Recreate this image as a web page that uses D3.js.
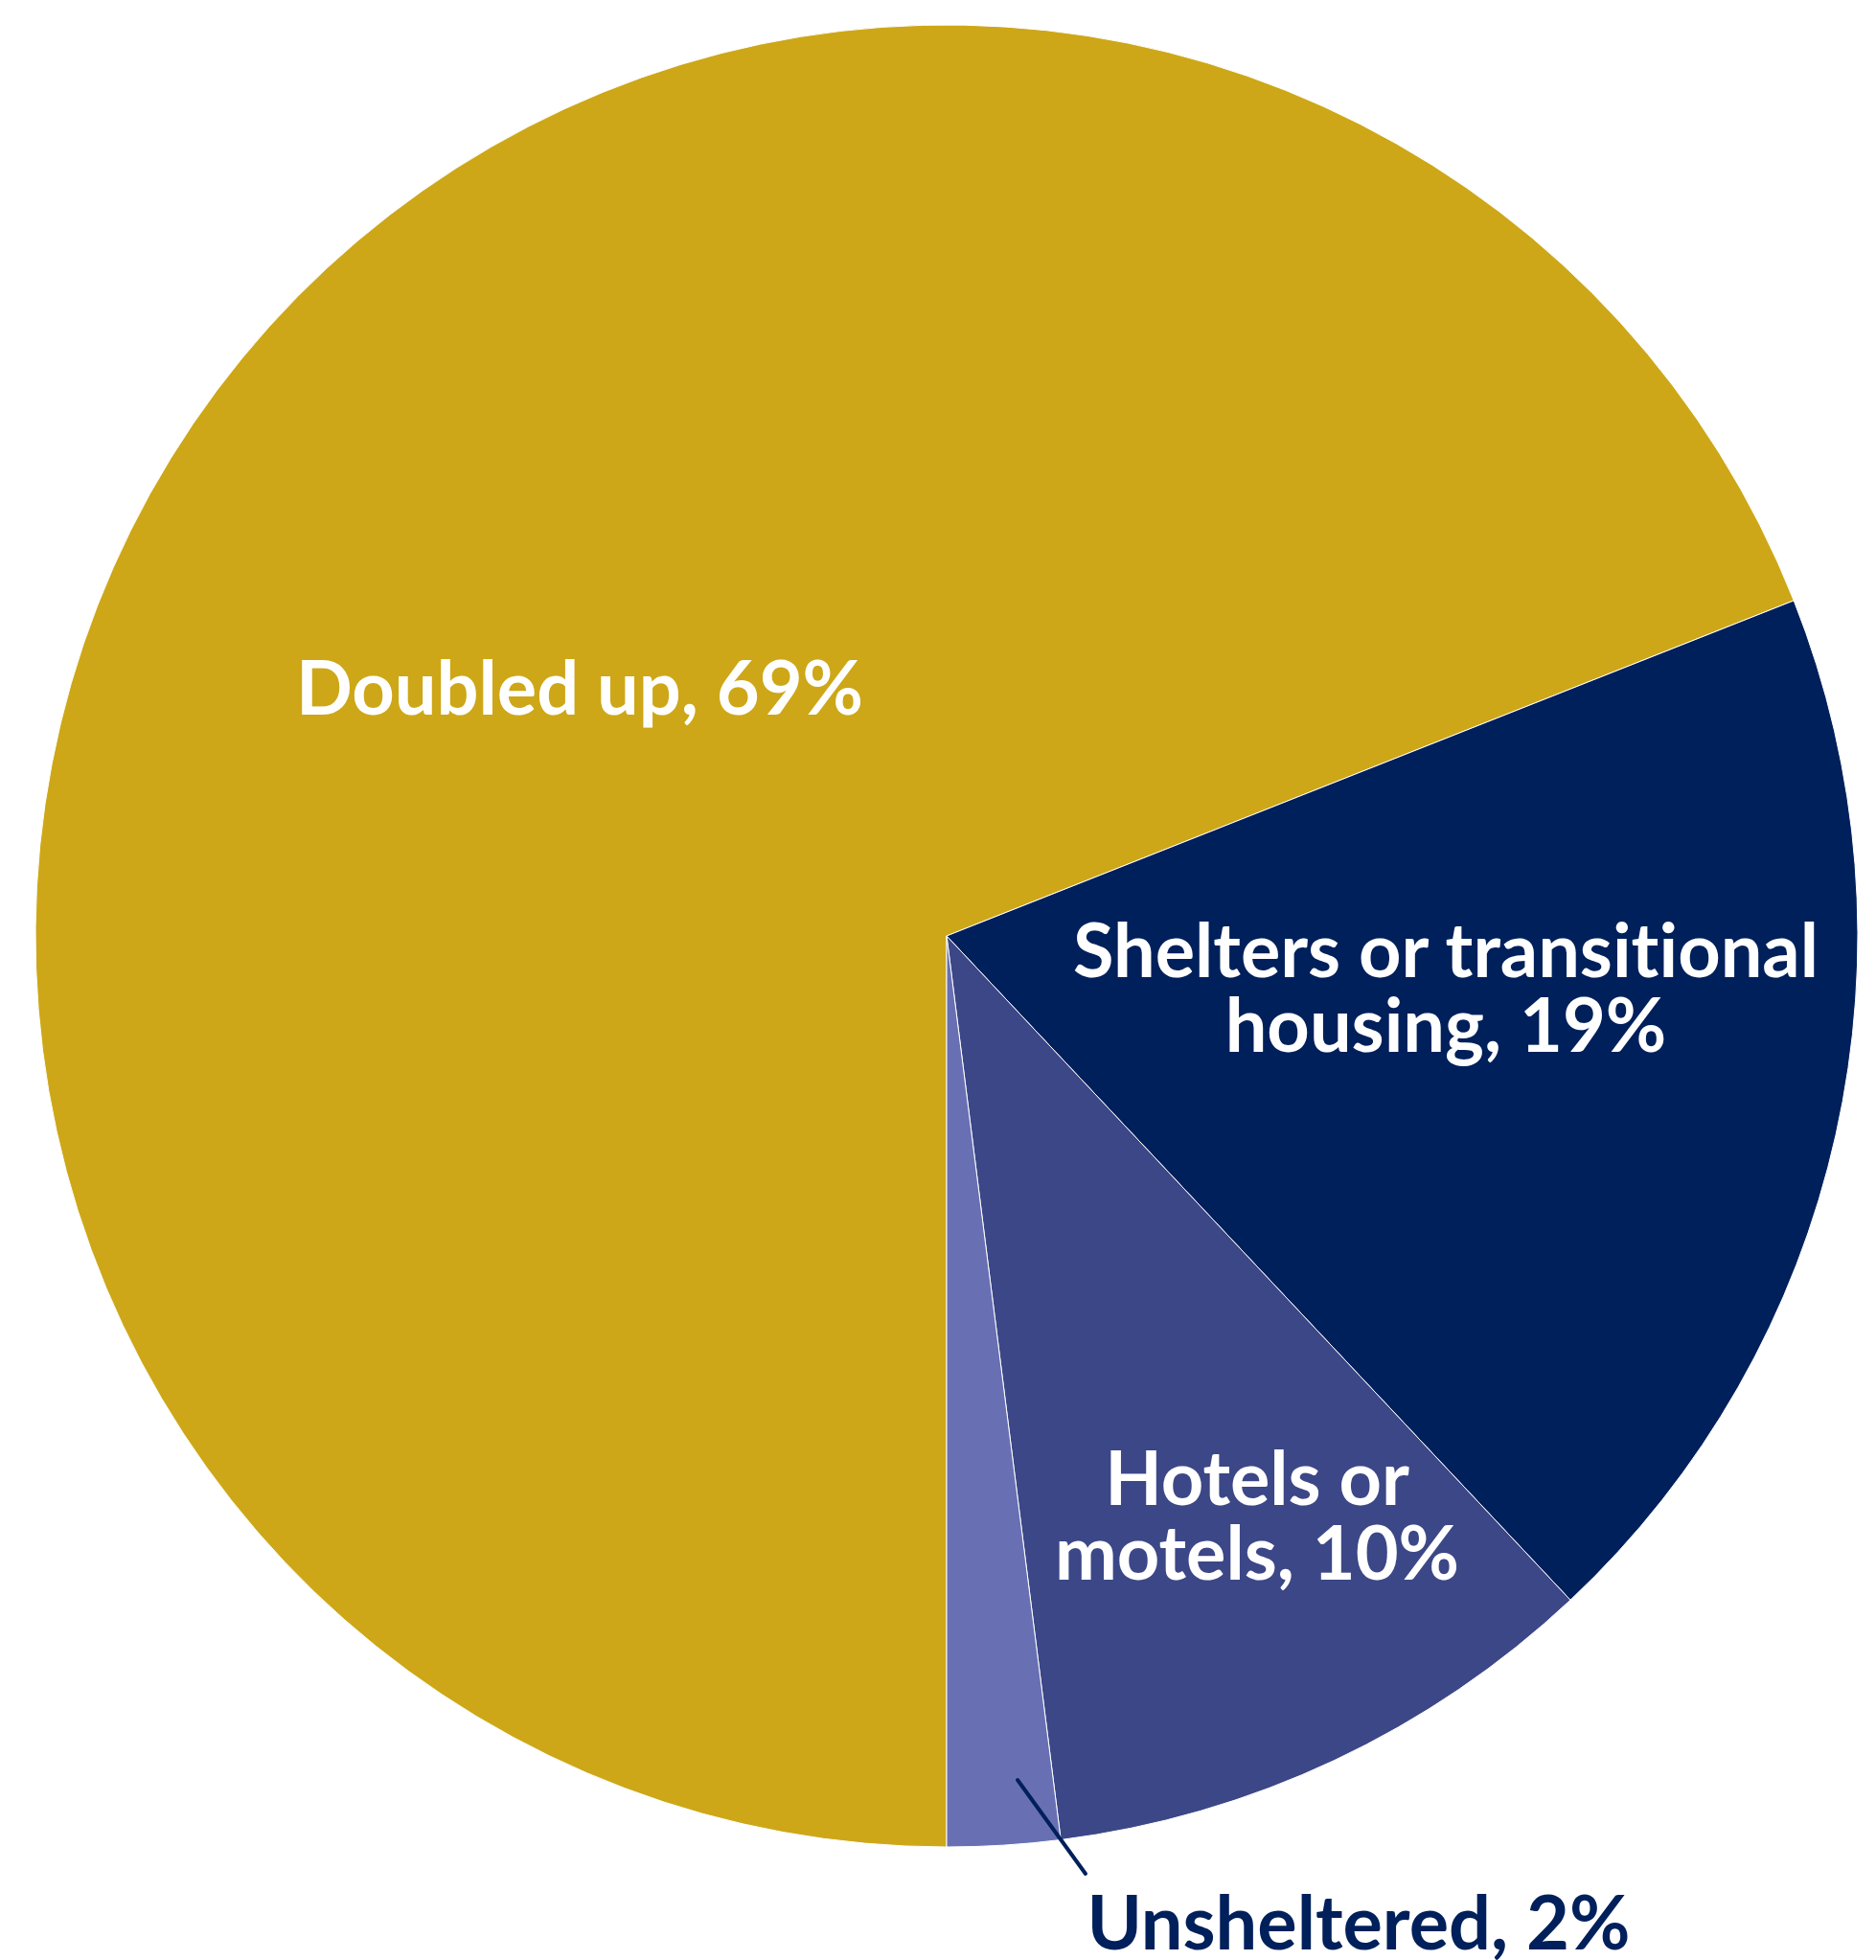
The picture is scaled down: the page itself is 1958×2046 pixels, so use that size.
<!DOCTYPE html>
<html>
<head>
<meta charset="utf-8">
<script src="https://cdn.jsdelivr.net/npm/d3@7"></script>
<style>
  body { margin: 0; background: #fff; }
  svg text { font-family: Lato, sans-serif; font-weight: 700; font-variant-ligatures: none; }
</style>
</head>
<body>
<svg width="1958" height="2046"></svg>
<script>
// Data
const categories = ["Doubled up", "Shelters or transitional housing", "Hotels or motels", "Unsheltered"];
const shares = [69, 19, 10, 2];
const colors = ["#CDA717", "#00205B", "#3C4787", "#6870B3"];
// label lines, as shown
const labelLines = [
    ["Doubled up, 69%"],
    ["Shelters or transitional", "housing, 19%"],
    ["Hotels or", "motels, 10%"],
    ["Unsheltered, 2%"]
];

// Layout
const cx = 988, cy = 977, radius = 951;
const fontSize = 77.5, lineGap = 78;
// first baseline of each label, relative to pie centre
const labelAt = [
    {dx: -383, dy: -231, fill: "#fff"},
    {dx: 521, dy: 43, fill: "#fff"},
    {dx: 324, dy: 594, fill: "#fff"},
    {dx: 430, dy: 1058, fill: "#00205B"}
];

const svg = d3.select("svg");
const g = svg.append("g").attr("transform", `translate(${cx}, ${cy})`);

const rows = categories.map((c, i) => ({name: c, value: shares[i], color: colors[i]}));

const pie = d3.pie()
    .value(d => d.value)
    .sort(null)
    .startAngle(Math.PI)
    .endAngle(3 * Math.PI);

const arc = d3.arc().innerRadius(0).outerRadius(radius);

g.selectAll("path.slice")
    .data(pie(rows))
    .join("path")
    .attr("class", "slice")
    .attr("d", arc)
    .attr("fill", d => d.data.color)
    .attr("stroke", "#fff")
    .attr("stroke-width", 1);

// leader line for the small slice
g.append("line")
    .attr("x1", 74).attr("y1", 881)
    .attr("x2", 145).attr("y2", 979)
    .attr("stroke", "#00205B")
    .attr("stroke-width", 4)
    .attr("stroke-linecap", "round");

// labels
const labels = g.selectAll("text.label")
    .data(rows)
    .join("text")
    .attr("class", "label")
    .attr("text-anchor", "middle")
    .attr("font-size", fontSize)
    .attr("fill", (d, i) => labelAt[i].fill)
    .attr("transform", (d, i) => `translate(${labelAt[i].dx}, ${labelAt[i].dy})`);

labels.each(function(d, i) {
    d3.select(this).selectAll("tspan")
        .data(labelLines[i])
        .join("tspan")
        .attr("x", 0)
        .attr("y", (t, j) => j * lineGap)
        .text(t => t);
});
</script>
</body>
</html>
